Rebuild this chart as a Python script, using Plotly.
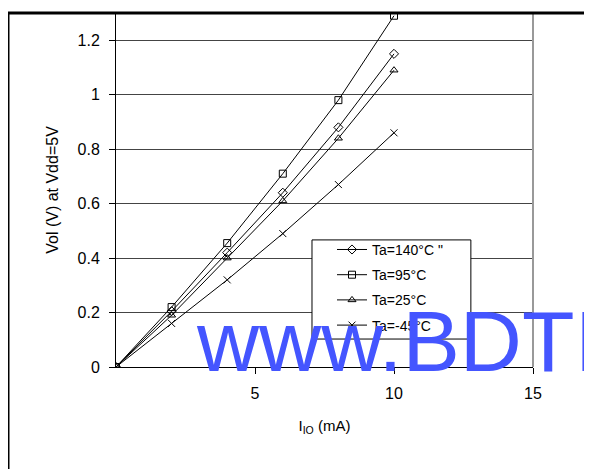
import plotly.graph_objects as go

# Output current (mA) and output low voltage (V) per ambient temperature
i_io = [0, 2, 4, 6, 8, 10]
vol_140 = [0, 0.205, 0.42, 0.64, 0.88, 1.15]
vol_95 = [0, 0.22, 0.455, 0.71, 0.98, 1.29]
vol_25 = [0, 0.19, 0.40, 0.61, 0.84, 1.09]
vol_m45 = [0, 0.16, 0.32, 0.49, 0.67, 0.86]

series = [
    ("Ta=140°C \"", vol_140, "diamond-open"),
    ("Ta=95°C", vol_95, "square-open"),
    ("Ta=25°C", vol_25, "triangle-up-open"),
    ("Ta=-45°C", vol_m45, "x-thin-open"),
]

fig = go.Figure()

for i, (name, vals, symbol) in enumerate(series):
    fig.add_trace(
        go.Scatter(
            x=i_io,
            y=vals,
            name=name,
            mode="lines+markers",
            line={"color": "black", "width": 1},
            marker={"symbol": symbol, "size": 7, "color": "black",
                    "line": {"color": "black", "width": 1}},
            legendgroup=f"g{i}",
        )
    )

fig.update_layout(
    width=592,
    height=469,
    margin={"l": 108, "r": 67, "t": 5, "b": 110},
    paper_bgcolor="white",
    plot_bgcolor="white",
    font={"family": "Liberation Sans, Arial, sans-serif", "color": "black", "size": 16},
    showlegend=True,
    legend={
        "x": 0.518,
        "y": 0.376,
        "xanchor": "left",
        "yanchor": "top",
        "borderwidth": 0,
        "bgcolor": "rgba(0,0,0,0)",
        "font": {"size": 14},
        "itemwidth": 30,
        "tracegroupgap": 4,
    },
)

fig.update_xaxes(
    range=[0, 15],
    tickvals=[5, 10, 15],
    showgrid=False,
    zeroline=False,
    showline=True,
    linecolor="black",
    linewidth=1,
    ticks="outside",
    ticklen=6,
    tickcolor="black",
    ticklabelstandoff=6,
    title={"text": "I<sub>IO</sub> (mA)", "font": {"size": 15}, "standoff": 19},
)

fig.update_yaxes(
    range=[0, 1.3],
    tickvals=[0, 0.2, 0.4, 0.6, 0.8, 1, 1.2],
    ticktext=["0", "0.2", "0.4", "0.6", "0.8", "1", "1.2"],
    showgrid=True,
    gridcolor="#444444",
    gridwidth=1,
    zeroline=False,
    showline=True,
    linecolor="black",
    linewidth=1,
    ticks="outside",
    ticklen=6,
    tickcolor="black",
    ticklabelstandoff=6,
    title={"text": "Vol (V) at Vdd=5V", "font": {"size": 16}, "standoff": 14},
)

# right border of the plot area
fig.add_shape(type="line", xref="paper", yref="paper", x0=1, x1=1, y0=0, y1=1,
              line={"color": "#999999", "width": 2})

# legend box (opaque, covers gridlines)
fig.add_shape(type="rect", xref="paper", yref="paper",
              x0=0.470, x1=0.851, y0=0.079, y1=0.359,
              line={"color": "black", "width": 1}, fillcolor="white", layer="above")

# outer chart frame (top and left visible)
fig.add_shape(type="line", xref="paper", yref="paper", x0=-0.259, x1=1.2, y0=1.0, y1=1.0,
              line={"color": "black", "width": 3})
fig.add_shape(type="line", xref="paper", yref="paper", x0=-0.259, x1=-0.259, y0=-0.3, y1=1.0,
              line={"color": "black", "width": 3})

# watermark
fig.add_annotation(
    text="www.BDTIC.com",
    xref="paper", yref="paper",
    x=0.187, y=-0.068,
    xanchor="left", yanchor="bottom",
    showarrow=False,
    font={"family": "Liberation Sans, Arial, sans-serif",
          "size": 86, "color": "#4455FF"},
)

fig.write_html("out.html")
